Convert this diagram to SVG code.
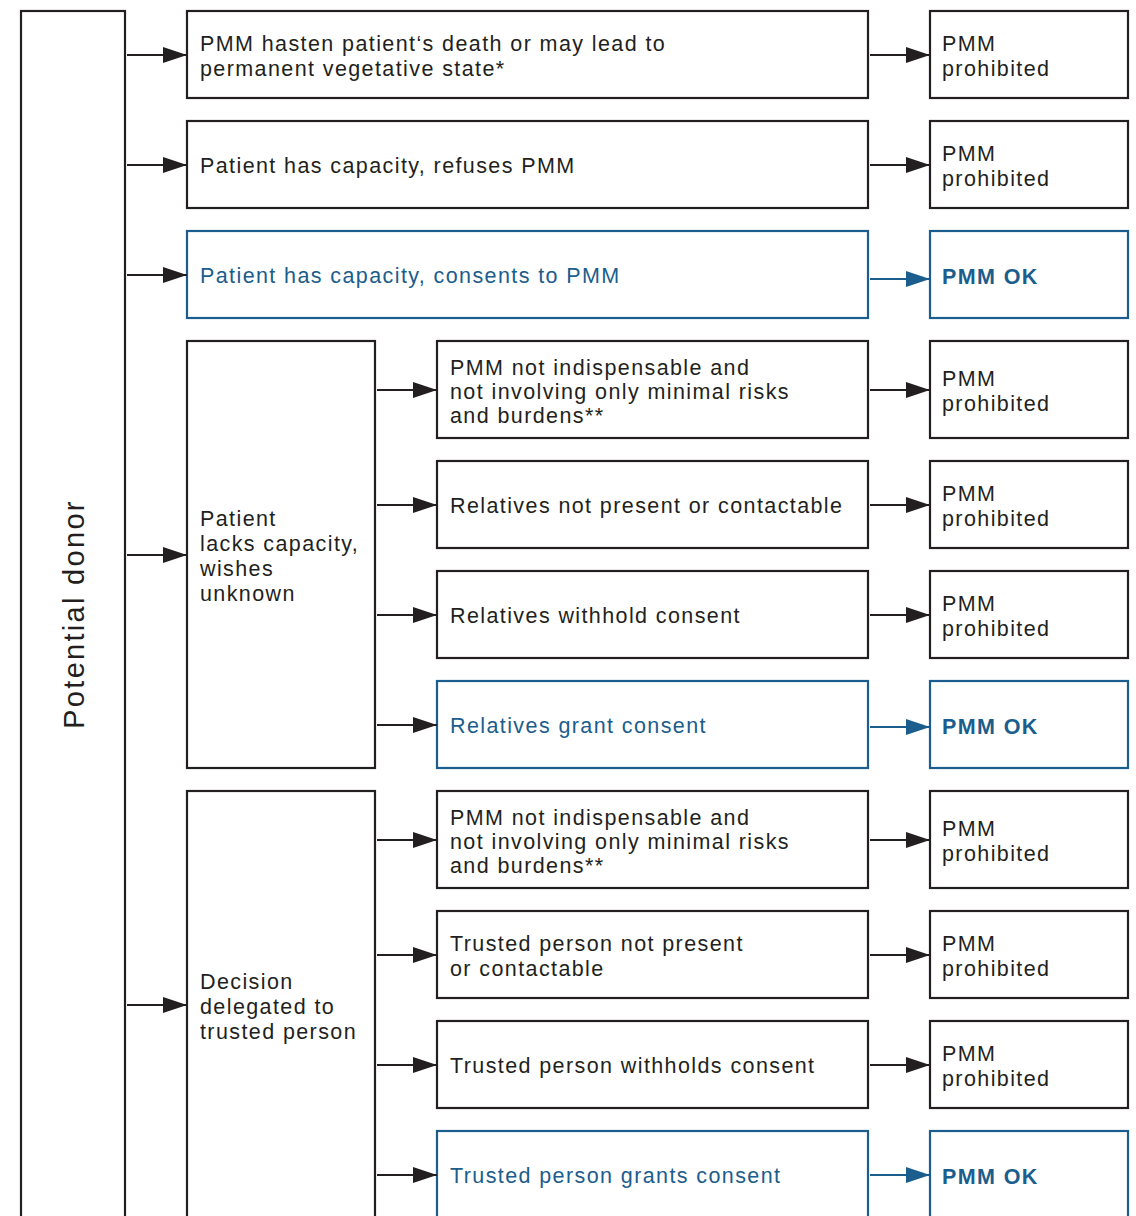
<svg xmlns="http://www.w3.org/2000/svg" width="1136" height="1216" viewBox="0 0 1136 1216">
<style>
.b{fill:#fff;stroke:#231f20;stroke-width:2.2}
.bb{fill:#fff;stroke:#1b5d8c;stroke-width:2.2}
text{font-family:"Liberation Sans",Arial,sans-serif;font-size:21.5px;fill:#231f20;letter-spacing:1.4px}
.tb{fill:#1b5d8c}
.ok{fill:#1b5d8c;font-weight:bold}
.c{stroke:#231f20;stroke-width:2.2;fill:none}
.cb{stroke:#1b5d8c;stroke-width:2.2;fill:none}
</style>
<defs>
<marker id="a" viewBox="0 0 24 16" refX="24" refY="8" markerWidth="24" markerHeight="16" markerUnits="userSpaceOnUse" orient="auto"><path d="M0,0 L24,8 L0,16 Z" fill="#231f20"/></marker>
<marker id="ab" viewBox="0 0 24 16" refX="24" refY="8" markerWidth="24" markerHeight="16" markerUnits="userSpaceOnUse" orient="auto"><path d="M0,0 L24,8 L0,16 Z" fill="#1b5d8c"/></marker>
</defs>
<g id="potential-donor"><rect class="b" x="21" y="11" width="104" height="1220"/><text transform="translate(84,614) rotate(-90)" text-anchor="middle" style="font-size:29px;letter-spacing:2.3px">Potential donor</text></g>
<g id="r1"><rect class="b" x="187" y="11" width="681" height="87"/><text x="200" y="51">PMM hasten patient‘s death or may lead to</text><text x="200" y="76">permanent vegetative state*</text></g>
<g id="r1o"><rect class="b" x="930" y="11" width="198" height="87"/><text x="942" y="51">PMM</text><text x="942" y="76">prohibited</text></g>
<g id="r2"><rect class="b" x="187" y="121" width="681" height="87"/><text x="200" y="173">Patient has capacity, refuses PMM</text></g>
<g id="r2o"><rect class="b" x="930" y="121" width="198" height="87"/><text x="942" y="161">PMM</text><text x="942" y="186">prohibited</text></g>
<g id="r3"><rect class="bb" x="187" y="231" width="681" height="87"/><text class="tb" x="200" y="283">Patient has capacity, consents to PMM</text></g>
<g id="r3o"><rect class="bb" x="930" y="231" width="198" height="87"/><text class="ok" x="942" y="284">PMM OK</text></g>
<g id="g1"><rect class="b" x="187" y="341" width="188" height="427"/><text x="200" y="526">Patient</text><text x="200" y="551">lacks capacity,</text><text x="200" y="576">wishes</text><text x="200" y="601">unknown</text></g>
<g id="s1"><rect class="b" x="437" y="341" width="431" height="97"/><text x="450" y="375">PMM not indispensable and</text><text x="450" y="399">not involving only minimal risks</text><text x="450" y="423">and burdens**</text></g>
<g id="s1o"><rect class="b" x="930" y="341" width="198" height="97"/><text x="942" y="386">PMM</text><text x="942" y="411">prohibited</text></g>
<g id="s2"><rect class="b" x="437" y="461" width="431" height="87"/><text x="450" y="513">Relatives not present or contactable</text></g>
<g id="s2o"><rect class="b" x="930" y="461" width="198" height="87"/><text x="942" y="501">PMM</text><text x="942" y="526">prohibited</text></g>
<g id="s3"><rect class="b" x="437" y="571" width="431" height="87"/><text x="450" y="623">Relatives withhold consent</text></g>
<g id="s3o"><rect class="b" x="930" y="571" width="198" height="87"/><text x="942" y="611">PMM</text><text x="942" y="636">prohibited</text></g>
<g id="s4"><rect class="bb" x="437" y="681" width="431" height="87"/><text class="tb" x="450" y="733">Relatives grant consent</text></g>
<g id="s4o"><rect class="bb" x="930" y="681" width="198" height="87"/><text class="ok" x="942" y="734">PMM OK</text></g>
<g id="g2"><rect class="b" x="187" y="791" width="188" height="440"/><text x="200" y="989">Decision</text><text x="200" y="1014">delegated to</text><text x="200" y="1039">trusted person</text></g>
<g id="t1"><rect class="b" x="437" y="791" width="431" height="97"/><text x="450" y="825">PMM not indispensable and</text><text x="450" y="849">not involving only minimal risks</text><text x="450" y="873">and burdens**</text></g>
<g id="t1o"><rect class="b" x="930" y="791" width="198" height="97"/><text x="942" y="836">PMM</text><text x="942" y="861">prohibited</text></g>
<g id="t2"><rect class="b" x="437" y="911" width="431" height="87"/><text x="450" y="951">Trusted person not present</text><text x="450" y="976">or contactable</text></g>
<g id="t2o"><rect class="b" x="930" y="911" width="198" height="87"/><text x="942" y="951">PMM</text><text x="942" y="976">prohibited</text></g>
<g id="t3"><rect class="b" x="437" y="1021" width="431" height="87"/><text x="450" y="1073">Trusted person withholds consent</text></g>
<g id="t3o"><rect class="b" x="930" y="1021" width="198" height="87"/><text x="942" y="1061">PMM</text><text x="942" y="1086">prohibited</text></g>
<g id="t4"><rect class="bb" x="437" y="1131" width="431" height="100"/><text class="tb" x="450" y="1183">Trusted person grants consent</text></g>
<g id="t4o"><rect class="bb" x="930" y="1131" width="198" height="100"/><text class="ok" x="942" y="1184">PMM OK</text></g>
<g id="connectors">
<path class="c" marker-end="url(#a)" d="M127,55 H187"/>
<path class="c" marker-end="url(#a)" d="M870,55 H930"/>
<path class="c" marker-end="url(#a)" d="M127,165 H187"/>
<path class="c" marker-end="url(#a)" d="M870,165 H930"/>
<path class="c" marker-end="url(#a)" d="M127,275 H187"/>
<path class="cb" marker-end="url(#ab)" d="M870,279 H930"/>
<path class="c" marker-end="url(#a)" d="M127,555 H187"/>
<path class="c" marker-end="url(#a)" d="M377,390 H437"/>
<path class="c" marker-end="url(#a)" d="M870,390 H930"/>
<path class="c" marker-end="url(#a)" d="M377,505 H437"/>
<path class="c" marker-end="url(#a)" d="M870,505 H930"/>
<path class="c" marker-end="url(#a)" d="M377,615 H437"/>
<path class="c" marker-end="url(#a)" d="M870,615 H930"/>
<path class="c" marker-end="url(#a)" d="M377,725 H437"/>
<path class="cb" marker-end="url(#ab)" d="M870,727 H930"/>
<path class="c" marker-end="url(#a)" d="M127,1005 H187"/>
<path class="c" marker-end="url(#a)" d="M377,840 H437"/>
<path class="c" marker-end="url(#a)" d="M870,840 H930"/>
<path class="c" marker-end="url(#a)" d="M377,955 H437"/>
<path class="c" marker-end="url(#a)" d="M870,955 H930"/>
<path class="c" marker-end="url(#a)" d="M377,1065 H437"/>
<path class="c" marker-end="url(#a)" d="M870,1065 H930"/>
<path class="c" marker-end="url(#a)" d="M377,1175 H437"/>
<path class="cb" marker-end="url(#ab)" d="M870,1175 H930"/>
</g>
</svg>
